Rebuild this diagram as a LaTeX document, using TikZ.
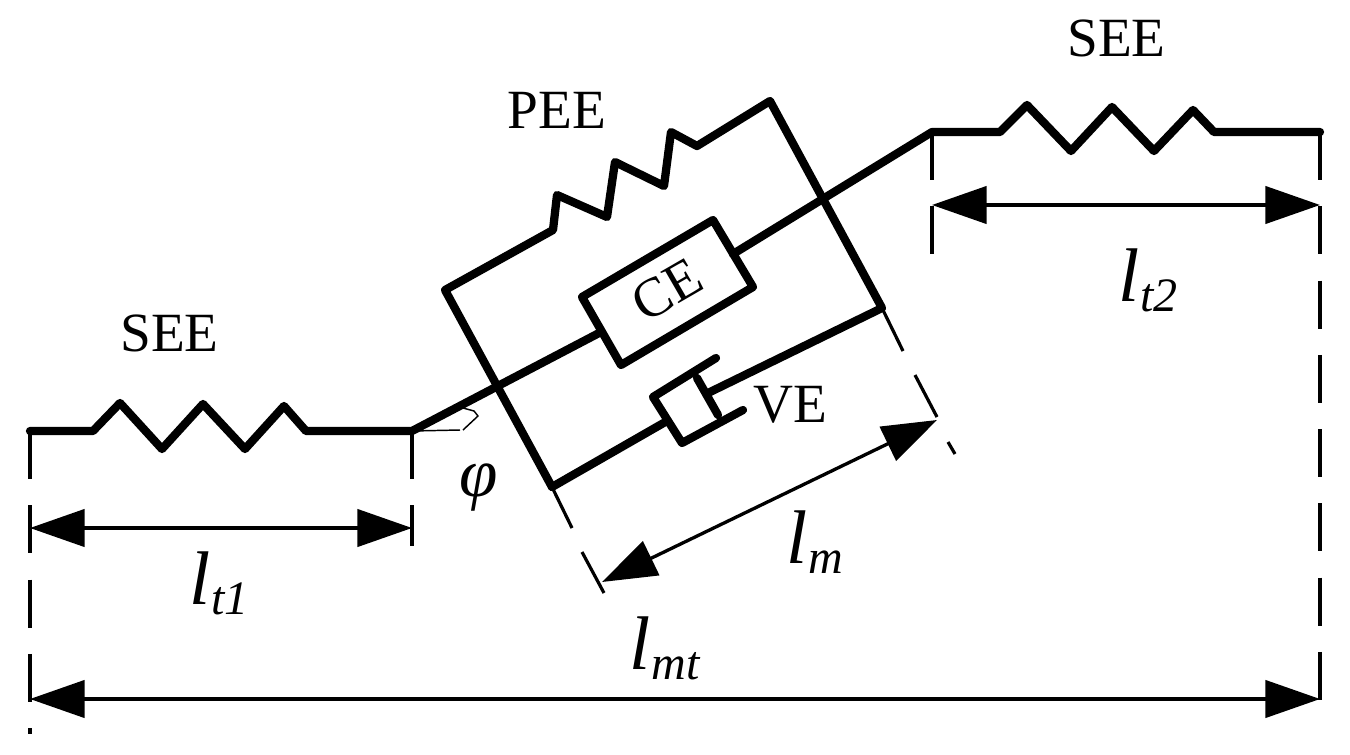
\documentclass[tikz,border=0pt]{standalone}
\usepackage{fontspec}
\setmainfont{Liberation Serif}
\usetikzlibrary{arrows.meta}
\newcommand{\symb}[2]{{\fontsize{57}{60}\selectfont\itshape #1\kern0.8pt\raisebox{-7.5pt}{\fontsize{36}{38}\selectfont #2}}}
\tikzset{
  heavy/.style={line width=6.2pt,line join=round,line cap=round},
  ext/.style={line width=2.4pt,dash pattern=on 36pt off 19.7pt},
  extplain/.style={line width=2.4pt},
  dimen/.style={line width=2.5pt,{Triangle[length=41pt,width=28pt]}-{Triangle[length=41pt,width=28pt]},shorten <=0pt,shorten >=0pt},
  tag/.style={inner sep=0pt,font=\fontsize{41.5}{44}\selectfont}
}
\begin{document}
\begin{tikzpicture}[x=0.75pt,y=-0.75pt]
\useasboundingbox (0,0) rectangle (1350,754);
% named points
\coordinate (la) at (30,431);
\coordinate (lb) at (412,431);
\coordinate (ra) at (932,132);
\coordinate (rb) at (1320,132);
\coordinate (fTL) at (445,290);
\coordinate (fBL) at (552,487);
\coordinate (fTR) at (770,101);
\coordinate (fBR) at (882,308);
\coordinate (ceL) at (601,332);
\coordinate (ceR) at (733,254);
\coordinate (dpL) at (667,421);
\coordinate (dpR) at (708,393);
% left and right springs with the inclined line
\draw[heavy] (la) -- (93,431) -- (120,403) -- (162,449) -- (203,404) -- (245,449) -- (284,406) -- (306,431) -- (lb) -- (ceL);
\draw[heavy] (ceR) -- (ra) -- (1000,132) -- (1027,105) -- (1071,151) -- (1112,107) -- (1154,151) -- (1193,110) -- (1214,132) -- (rb);
% muscle frame
\draw[heavy] (fBL) -- (fTL) -- (553,230) -- (557,195) -- (607,217) -- (615,162) -- (664,186) -- (671,132) -- (697,146) -- (fTR) -- (fBR) -- (dpR);
\draw[heavy] (fBL) -- (dpL);
% contractile element
\draw[heavy] (582,297) -- (713,220) -- (753,287) -- (621,365) -- cycle;
% dashpot
\draw[heavy] (716,358) -- (653,397) -- (682,443) -- (743,410);
\draw[heavy] (697,378) -- (718,415);
% extension lines
\draw[ext] (la) -- (30,734);
\draw[ext] (lb) -- (412,546);
\draw[ext] (ra) -- (932,256);
\draw[ext] (rb) -- (1320,702);
\draw[extplain] (fBL) -- (572,528);
\draw[extplain] (582,552) -- (604,593);
\draw[extplain] (fBR) -- (903,351);
\draw[extplain] (915,375) -- (937,417);
\draw[extplain] (948,442) -- (955,454);
% angle mark
\draw[line width=1.1pt,line join=round] (lb) -- (460,430);
\draw[line width=1.1pt,line join=round] (463,430) -- (478,416) -- (474,411) -- (463,408);
% dimensions
\coordinate (d1a) at (30,528); \coordinate (d1b) at (412,528);
\coordinate (d2a) at (932,205); \coordinate (d2b) at (1320,205);
\coordinate (d3a) at (30,699); \coordinate (d3b) at (1320,699);
\coordinate (d4a) at (602,582); \coordinate (d4b) at (937,420);
\draw[dimen] (d1a) -- (d1b);
\draw[dimen] (d2a) -- (d2b);
\draw[dimen] (d3a) -- (d3b);
\draw[dimen] (d4a) -- (d4b);
% labels
\node[tag] (see1) at (169.5,333) {SEE};
\node[tag] (see2) at (1116.5,38) {SEE};
\node[tag] (pee) at (557,110) {PEE};
\node[tag,rotate=30] (ce) at (667,290) {CE};
\node[tag] (ve) at (790,405) {VE};
\node[inner sep=0pt,font=\fontsize{52}{54}\selectfont\itshape] (phi) at (479,488) {φ};
\node[inner sep=0pt,anchor=base west] (lt1) at (189,604) {\symb{l}{t1}};
\node[inner sep=0pt,anchor=base west] (lt2) at (1118,301) {\symb{l}{t2}};
\node[inner sep=0pt,anchor=base west] (lm) at (786,563) {\symb{l}{m}};
\node[inner sep=0pt,anchor=base west] (lmt) at (629,669) {\symb{l}{mt}};
\end{tikzpicture}
\end{document}
